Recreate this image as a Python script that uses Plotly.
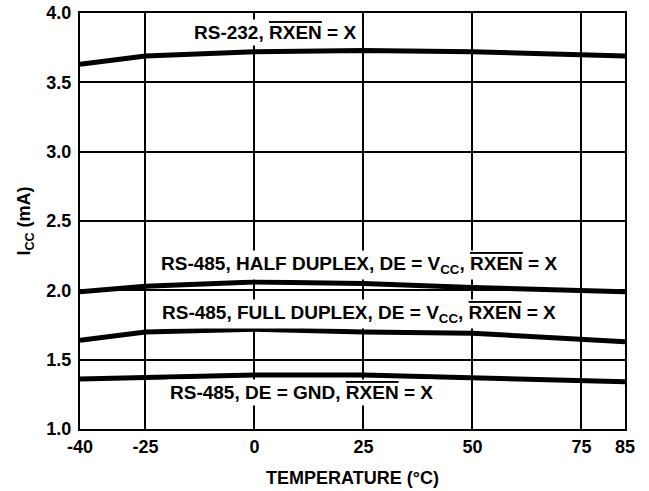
import plotly.graph_objects as go

temps = [-40, -25, 0, 25, 50, 75, 85]
rs232 = [3.63, 3.69, 3.72, 3.73, 3.72, 3.70, 3.69]
half_duplex = [1.99, 2.03, 2.06, 2.05, 2.02, 2.00, 1.99]
full_duplex = [1.64, 1.70, 1.72, 1.70, 1.69, 1.65, 1.63]
de_gnd = [1.36, 1.37, 1.39, 1.39, 1.37, 1.35, 1.34]

x_ticks = [-40, -25, 0, 25, 50, 75, 85]
y_ticks = [1.0, 1.5, 2.0, 2.5, 3.0, 3.5, 4.0]

OL = '<span style="text-decoration:overline">RXEN</span>'
labels = [
    ("RS-232, " + OL + " = X", 4.7, 3.86),
    ("RS-485, HALF DUPLEX, DE = V<sub>CC</sub>, " + OL + " = X", 24, 2.18),
    ("RS-485, FULL DUPLEX, DE = V<sub>CC</sub>, " + OL + " = X", 24, 1.83),
    ("RS-485, DE = GND, " + OL + " = X", 10.7, 1.26),
]

FAM = "Liberation Sans, Arial"
fig = go.Figure()
for ys in [rs232, half_duplex, full_duplex, de_gnd]:
    fig.add_trace(go.Scatter(x=temps, y=ys, mode="lines",
                             line=dict(color="black", width=5),
                             showlegend=False, hoverinfo="skip"))

for txt, xv, yv in labels:
    fig.add_annotation(x=xv, y=yv, text="<b>" + txt + "</b>", showarrow=False,
                       bgcolor="white", borderpad=2,
                       font=dict(family=FAM, size=19, color="black"))

fnt = dict(family=FAM, size=18, color="black")
fig.update_layout(
    width=649, height=491,
    margin=dict(l=80, r=24, t=13, b=62),
    paper_bgcolor="white", plot_bgcolor="white",
    font=fnt,
    xaxis=dict(range=[-40, 85], tickvals=x_ticks,
               ticktext=["<b>%d</b>" % v for v in x_ticks],
               showgrid=True, gridcolor="black", gridwidth=2,
               showline=True, linecolor="black", linewidth=2, mirror=True,
               zeroline=False, ticks="", tickfont=fnt, automargin=False,
               title=dict(text="<b>TEMPERATURE (°C)</b>", font=dict(family=FAM, size=18, color="black"), standoff=16)),
    yaxis=dict(range=[1.0, 4.0], tickvals=y_ticks,
               ticktext=["<b>%.1f</b>" % v for v in y_ticks],
               showgrid=True, gridcolor="black", gridwidth=2,
               showline=True, linecolor="black", linewidth=2, mirror=True,
               zeroline=False, ticks="", tickfont=fnt, automargin=False,
               ticklabelstandoff=3,
               title=dict(text="<b>I<sub>CC</sub> (mA)</b>", font=dict(family=FAM, size=18, color="black"), standoff=11)),
)

fig.write_html("out.html", config={"displayModeBar": False},
               post_script="document.body.style.margin='0px';document.body.style.overflow='hidden';")
